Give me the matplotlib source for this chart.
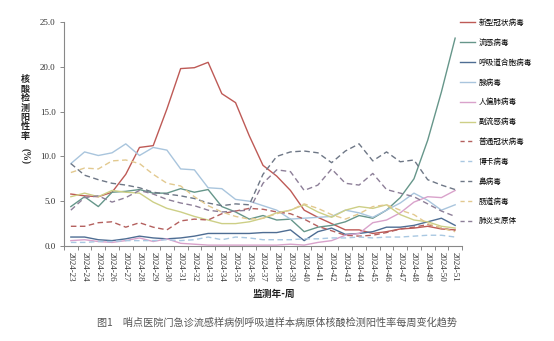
import matplotlib
matplotlib.use("Agg")
import matplotlib.pyplot as plt
from matplotlib.lines import Line2D
import numpy as np

plt.rcParams['font.family'] = ['Noto Sans CJK SC', 'DejaVu Sans']

weeks = [f"2024-{w}" for w in range(23, 52)]

series_names = ["新型冠状病毒", "流感病毒", "呼吸道合胞病毒", "腺病毒", "人偏肺病毒", "副流感病毒",
                "普通冠状病毒", "博卡病毒", "鼻病毒", "肠道病毒", "肺炎支原体"]

covid = [5.8, 5.6, 5.5, 6.0, 8.0, 11.0, 11.2, 15.3, 19.8, 19.9, 20.5, 17.0, 16.0, 12.3, 9.0,
         7.8, 6.2, 4.0, 3.2, 2.5, 1.8, 1.8, 1.4, 1.6, 1.9, 2.0, 2.2, 1.9, 1.8]
flu = [4.4, 5.5, 4.4, 6.0, 6.1, 6.3, 5.9, 5.9, 6.4, 6.0, 6.3, 4.4, 3.8, 3.0, 3.4,
       2.9, 3.0, 1.6, 2.1, 2.3, 2.7, 3.4, 3.1, 4.0, 5.4, 7.5, 11.8, 17.2, 23.2]
rsv = [1.0, 1.0, 0.7, 0.6, 0.8, 1.1, 0.9, 0.8, 0.9, 1.1, 1.4, 1.4, 1.4, 1.4, 1.5,
       1.5, 1.8, 0.6, 1.6, 2.0, 1.3, 1.4, 1.6, 2.1, 2.1, 2.3, 2.7, 3.1, 2.3]
adeno = [9.2, 10.5, 10.1, 10.4, 11.4, 10.1, 11.0, 10.7, 8.6, 8.5, 6.5, 6.4, 5.2, 5.0, 4.5,
         4.0, 3.0, 3.1, 3.2, 3.3, 4.0, 3.7, 3.2, 4.0, 4.8, 5.9, 5.1, 4.0, 4.6]
hmpv = [0.6, 0.7, 0.5, 0.4, 0.6, 0.9, 0.5, 0.8, 0.3, 0.2, 0.1, 0.1, 0.1, 0.1, 0.1,
        0.1, 0.2, 0.1, 0.4, 0.6, 1.2, 1.4, 2.6, 2.9, 3.7, 4.9, 5.5, 5.4, 6.2]
paraflu = [5.5, 5.9, 5.5, 6.2, 6.0, 5.9, 4.9, 4.2, 3.8, 3.3, 2.9, 2.5, 2.5, 2.7, 3.1,
           3.7, 4.0, 4.6, 3.8, 3.2, 4.0, 4.4, 4.2, 4.6, 3.5, 2.9, 2.7, 2.2, 2.0]
hcov = [2.2, 2.2, 2.6, 2.7, 2.1, 2.6, 2.1, 1.8, 2.8, 3.0, 2.9, 3.6, 3.9, 4.2, 4.1,
        3.8, 3.6, 3.0, 2.2, 1.7, 1.2, 1.1, 1.2, 1.5, 1.9, 2.1, 2.4, 2.0, 1.7]
boca = [0.4, 0.4, 0.5, 0.5, 0.6, 0.6, 0.6, 0.7, 0.6, 0.7, 1.0, 0.7, 1.0, 0.9, 0.7,
        0.7, 0.7, 0.8, 0.8, 0.9, 0.9, 1.0, 0.9, 1.0, 1.0, 1.1, 1.2, 1.2, 1.0]
rhino = [9.2, 7.9, 7.4, 7.0, 6.8, 6.5, 6.0, 5.8, 5.6, 5.3, 4.8, 4.5, 4.7, 4.6, 8.0,
         10.0, 10.5, 10.6, 10.4, 9.3, 10.6, 11.4, 9.5, 10.5, 9.4, 9.6, 7.4, 6.8, 6.3]
entero = [8.2, 8.7, 8.6, 9.5, 9.6, 9.2, 8.0, 7.0, 6.7, 5.5, 4.5, 3.8, 3.3, 3.0, 3.1,
          3.6, 4.0, 4.7, 4.2, 3.5, 3.0, 3.6, 4.4, 4.6, 4.0, 3.5, 2.5, 2.0, 1.6]
mycoplasma = [4.0, 5.4, 5.6, 4.9, 5.4, 6.2, 5.8, 5.2, 4.8, 4.5, 4.0, 3.8, 3.9, 4.0, 7.0,
              8.5, 8.3, 6.2, 6.8, 8.6, 7.0, 6.8, 8.1, 6.3, 5.9, 5.5, 4.7, 3.9, 3.3]

values = [covid, flu, rsv, adeno, hmpv, paraflu, hcov, boca, rhino, entero, mycoplasma]
colors = ["#BE5A56", "#66968A", "#4E6D93", "#A9C5DD", "#D9A2CB", "#CDCF86",
          "#B4605E", "#A9C8E2", "#6E7786", "#E2C98F", "#8D7F98"]
styles = ["-"] * 6 + ["--"] * 5

fig = plt.figure(figsize=(5.54, 3.41), dpi=100)
ax = fig.add_axes([64/554, 1-246/341, (462-64)/554, (246-22)/341])

x = np.arange(len(weeks))
for name, vals, c, ls in zip(series_names, values, colors, styles):
    if ls == "--":
        ax.plot(x, vals, color=c, lw=1.0, linestyle=(0, (4, 2.5)))
    else:
        ax.plot(x, vals, color=c, lw=1.0)

ax.set_xlim(-0.5, len(weeks) - 0.5)
ax.set_ylim(0, 25)
ax.set_yticks(np.arange(0, 26, 5))
ax.set_yticklabels([f"{v:.1f}" for v in np.arange(0, 26, 5)], family="Liberation Serif", fontsize=6.5, color="#333333")
ax.set_xticks(x)
ax.set_xticklabels(weeks, rotation=-90, family="Liberation Serif", fontsize=6.5, color="#333333")
ax.tick_params(axis='x', length=0, pad=4)
ax.set_xticks(np.arange(-0.5, len(weeks), 1), minor=True)
ax.tick_params(axis='x', which='minor', length=3, color="#888888", width=0.7)
ax.tick_params(axis='y', length=3, color="#888888", width=0.7, pad=3)
for s in ["top", "right"]:
    ax.spines[s].set_visible(False)
for s in ["left", "bottom"]:
    ax.spines[s].set_color("#888888")
    ax.spines[s].set_linewidth(0.8)

# y-axis title, stacked vertically
fig.text(25/554, 1-108/341, "核\n酸\n检\n测\n阳\n性\n率", ha="center", va="center",
         fontsize=6.5, fontweight="bold", linespacing=1.05, color="#222222")
fig.text(25/554, 1-156/341, "(%)", ha="center", va="center", rotation=-90,
         fontsize=7, fontweight="bold", family="Liberation Serif", color="#222222")

fig.text(274/554, 1-294/341, "监测年-周", ha="center", va="center", fontsize=7,
         fontweight="bold", color="#222222")
fig.text(277/554, 1-323/341, "图1　哨点医院门急诊流感样病例呼吸道样本病原体核酸检测阳性率每周变化趋势",
         ha="center", va="center", fontsize=7.3, color="#555555")

leg_handles = [Line2D([0], [0], color=c, lw=1.0, linestyle=(0, (3, 2.5)) if ls == "--" else "-")
               for c, ls in zip(colors, styles)]
fig.legend(leg_handles, series_names, loc="upper left", bbox_to_anchor=(460/554, 1-19/341),
           frameon=False, fontsize=5.5, handlelength=2.0, handletextpad=0.4,
           labelspacing=1.55, borderaxespad=0, borderpad=0)

fig.savefig("out.png", dpi=100)
